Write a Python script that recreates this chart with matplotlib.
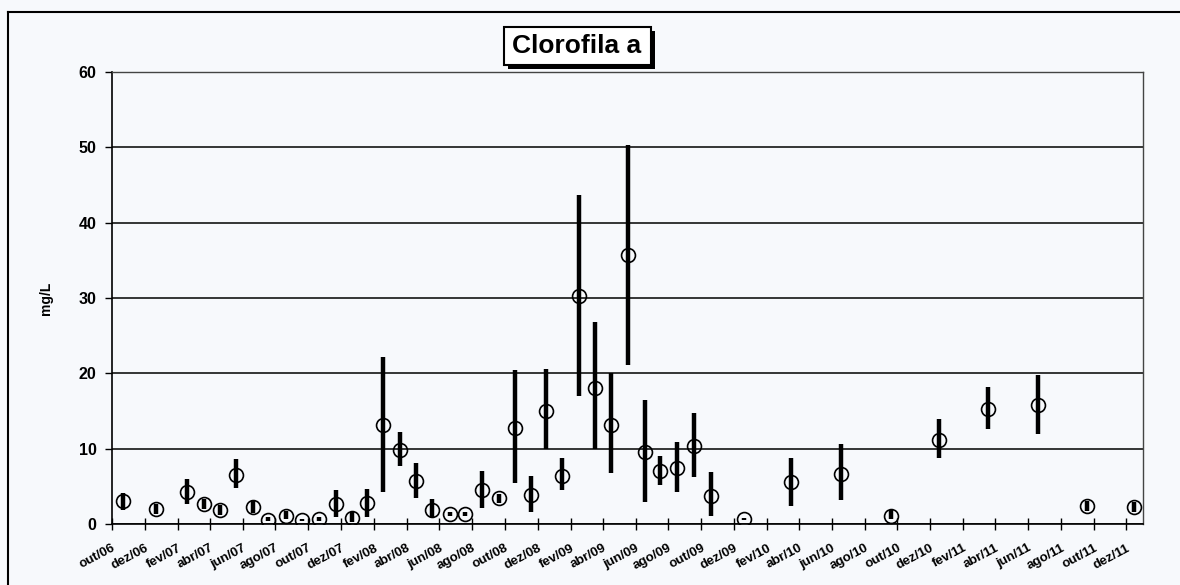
import pandas as pd
import matplotlib
matplotlib.use("Agg")
import matplotlib.pyplot as plt
from matplotlib.patches import Rectangle
from matplotlib.lines import Line2D

plt.rcParams['font.family'] = ['Liberation Sans', 'DejaVu Sans']
plt.rcParams['font.weight'] = 'bold'

# Clorofila a - datas de coleta, media e faixa (min/max) em mg/L
datas = ["2006-10-22", "2006-12-22", "2007-02-18", "2007-03-22", "2007-04-19",
         "2007-05-20", "2007-06-20", "2007-07-19", "2007-08-21", "2007-09-20",
         "2007-10-21", "2007-11-21", "2007-12-22", "2008-01-19", "2008-02-17",
         "2008-03-19", "2008-04-19", "2008-05-19", "2008-06-20", "2008-07-19",
         "2008-08-19", "2008-09-20", "2008-10-19", "2008-11-19", "2008-12-17",
         "2009-01-16", "2009-02-16", "2009-03-18", "2009-04-17", "2009-05-17",
         "2009-06-18", "2009-07-17", "2009-08-18", "2009-09-18", "2009-10-19",
         "2009-12-19", "2010-03-18", "2010-06-18", "2010-09-20", "2010-12-18",
         "2011-03-19", "2011-06-19", "2011-09-18", "2011-12-16"]

media = [3.0, 2.0, 4.2, 2.7, 1.9, 6.55, 2.2, 0.53, 1.07, 0.53,
         0.62, 2.6, 0.85, 2.8, 13.1, 9.8, 5.7, 1.85, 1.33, 1.33,
         4.5, 3.4, 12.8, 3.85, 15.0, 6.4, 30.3, 18.0, 13.1, 35.7,
         9.5, 7.0, 7.45, 10.35, 3.7, 0.67, 5.6, 6.7, 1.1, 11.2,
         15.3, 15.8, 2.45, 2.27]

minimo = [1.9, 1.3, 2.7, 2.0, 1.2, 4.8, 1.45, 0.35, 0.6, 0.35,
          0.4, 0.9, 0.3, 0.9, 4.3, 7.7, 3.4, 0.75, 1.0, 1.05,
          2.1, 2.8, 5.4, 1.6, 10.0, 4.5, 17.0, 10.0, 6.8, 21.1,
          2.9, 5.2, 4.2, 6.3, 1.1, 0.5, 2.4, 3.2, 0.6, 8.7,
          12.6, 12.0, 1.7, 1.55]

maximo = [4.1, 2.7, 6.0, 3.3, 2.5, 8.65, 3.2, 0.95, 1.7, 0.7,
          0.9, 4.45, 1.6, 4.7, 22.2, 12.2, 8.1, 3.3, 1.6, 1.6,
          7.0, 3.95, 20.5, 6.4, 20.6, 8.75, 43.7, 26.8, 20.0, 50.3,
          16.4, 9.0, 10.9, 14.8, 6.9, 0.8, 8.8, 10.6, 1.9, 13.9,
          18.2, 19.8, 3.0, 2.9]

meses = ['jan', 'fev', 'mar', 'abr', 'mai', 'jun',
         'jul', 'ago', 'set', 'out', 'nov', 'dez']

fundo = '#f7f9fc'
W, H = 1180, 585

fig = plt.figure(figsize=(11.8, 5.85), dpi=100, facecolor=fundo)
ax = fig.add_axes([112 / W, 61 / H, 1031 / W, 452 / H], facecolor=fundo)

x = pd.to_datetime(datas)
ax.vlines(x, minimo, maximo, color='black', linewidth=3.2, zorder=3)
ax.plot(x, media, 'o', mfc='none', mec='black', ms=10, mew=1.2, zorder=4)

# eixo x: a cada 2 meses
ax.set_xlim(pd.Timestamp('2006-10-01'), pd.Timestamp('2012-01-01'))
ticks = pd.date_range('2006-10-01', '2011-12-01', freq='2MS')
ax.set_xticks(ticks)
ax.set_xticklabels([f"{meses[t.month - 1]}/{t.year % 100:02d}" for t in ticks],
                   rotation=28, ha='right', rotation_mode='anchor',
                   fontsize=9.5, fontweight='bold')
ax.tick_params(axis='x', direction='inout', length=8, width=1, pad=9)

ax.set_ylim(0, 60)
ax.set_yticks(range(0, 61, 10))
ax.tick_params(axis='y', direction='out', length=5, width=1, labelsize=11.5, pad=6)
ax.yaxis.grid(True, color='black', linewidth=1.1)
ax.set_axisbelow(True)

ax.set_ylabel('mg/L', fontsize=10, fontweight='bold')
ax.yaxis.set_label_coords(-0.057, 0.5)

for s in ['left', 'bottom']:
    ax.spines[s].set_linewidth(1.2)
for s in ['top', 'right']:
    ax.spines[s].set_color('#444444')
    ax.spines[s].set_linewidth(1.0)

# moldura do grafico (so topo e lado esquerdo aparecem)
fig.add_artist(Line2D([7.5 / W, 1.0], [1 - 12 / H] * 2, color='black', lw=1.5,
                      transform=fig.transFigure))
fig.add_artist(Line2D([7.5 / W] * 2, [0.0, 1 - 12 / H], color='black', lw=1.5,
                      transform=fig.transFigure))

# titulo em caixa com sombra
fig.patches.append(Rectangle((508 / W, 1 - 69 / H), 147 / W, 38 / H,
                             fc='black', ec='none', transform=fig.transFigure))
fig.patches.append(Rectangle((504 / W, 1 - 65 / H), 147 / W, 38 / H,
                             fc='white', ec='black', lw=1.5,
                             transform=fig.transFigure))
fig.text(577 / W, 1 - 46 / H, 'Clorofila a', ha='center', va='center',
         fontsize=19, fontweight='bold')

fig.savefig('out.png', dpi=100, facecolor=fundo)
